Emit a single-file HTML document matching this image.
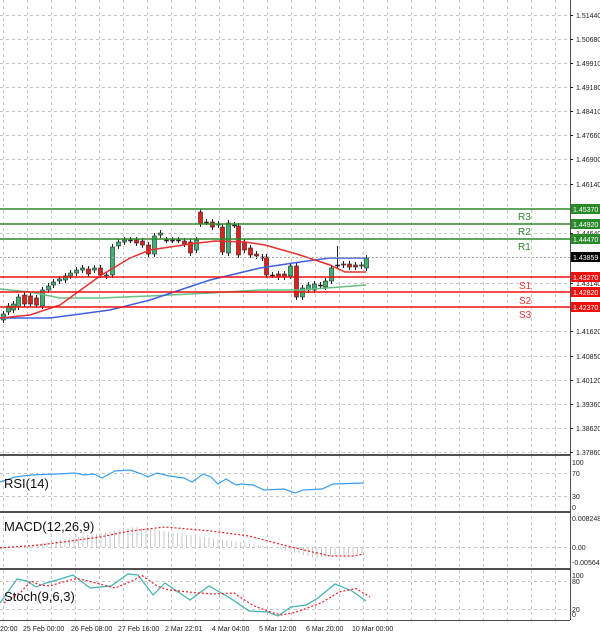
<!DOCTYPE html>
<html><head><meta charset="utf-8"><style>
body{margin:0;background:#fff;width:600px;height:634px;overflow:hidden}
svg{display:block;font-family:"Liberation Sans",sans-serif}
</style></head><body>
<svg id="c" width="600" height="634" xmlns="http://www.w3.org/2000/svg">
<rect width="600" height="634" fill="#fff"/>
<g id="grid" stroke="#c8c8c8" stroke-dasharray="3,3" stroke-width="1"></g>
<g id="hist" stroke="#c8c8c8" stroke-width="1"></g>
<g id="cand"></g>
<g id="lines" fill="none"></g>
<g id="frame" stroke="#505050" fill="none">
<line x1="570.5" y1="0" x2="570.5" y2="620" stroke-width="1"/>
<line x1="0" y1="455" x2="570" y2="455" stroke-width="2"/>
<line x1="0" y1="512" x2="570" y2="512" stroke-width="2"/>
<line x1="0" y1="569" x2="570" y2="569" stroke-width="2"/>
<line x1="0" y1="620.5" x2="570" y2="620.5" stroke-width="1"/>
</g>
<g id="lab" font-size="7" fill="#222"></g>
<g font-size="13" fill="#111">
<text x="4" y="488">RSI(14)</text>
<text x="4" y="531">MACD(12,26,9)</text>
<text x="4" y="601">Stoch(9,6,3)</text>
</g>
<g font-size="10" fill="#2e8b2e"><text x="518" y="220">R3</text><text x="518" y="235">R2</text><text x="518" y="250">R1</text></g>
<g font-size="10" fill="#f03030"><text x="519" y="289">S1</text><text x="519" y="304">S2</text><text x="519" y="318">S3</text></g>
</svg>
<script>
const NS="http://www.w3.org/2000/svg";
function el(p,t,a,txt){const e=document.createElementNS(NS,t);for(const k in a)e.setAttribute(k,a[k]);if(txt!==undefined)e.textContent=txt;document.getElementById(p).appendChild(e);return e;}
for(let x=3;x<570;x+=24){el('grid','line',{x1:x+.5,y1:0,x2:x+.5,y2:620});}
const py=[[15,'1.51440'],[39,'1.50680'],[63,'1.49910'],[87,'1.49180'],[111,'1.48410'],[135,'1.47660'],[159,'1.46900'],[184,'1.46140'],[233,'1.44640'],[283,'1.43140'],[331,'1.41620'],[356,'1.40850'],[380,'1.40120'],[404,'1.39360'],[428,'1.38620'],[452,'1.37860']];
py.forEach(([y,t])=>{el('grid','line',{x1:0,y1:y+.5,x2:570,y2:y+.5});el('lab','text',{x:576,y:y+3},t);el('lab','line',{x1:570,y1:y+.5,x2:573,y2:y+.5,stroke:'#222'});});
[473,496,547,581,609].forEach(y=>el('grid','line',{x1:0,y1:y+.5,x2:570,y2:y+.5}));
[[465,'100'],[476,'70'],[499,'30'],[510,'0'],[521,'0.008248'],[550,'0.00'],[565,'-0.005643'],[578,'100'],[584,'80'],[612,'20'],[617,'0']].forEach(([y,t])=>el('lab','text',{x:572,y:y},t));
[[0,'20:00'],[23,'25 Feb 00:00'],[71,'26 Feb 08:00'],[118,'27 Feb 16:00'],[165,'2 Mar 22:01'],[212,'4 Mar 04:00'],[259,'5 Mar 12:00'],[306,'6 Mar 20:00'],[352,'10 Mar 00:00']].forEach(([x,t])=>el('lab','text',{x:x,y:631},t));
for(let x=2;x<366;x+=4.5){let v;
 if(x<20)v=(x-20)*0.05;else if(x<135)v=(x-20)/115*20;else if(x<272)v=20*(272-x)/137;else if(x<315)v=-11*(x-272)/43;else v=-11+5*(x-315)/50;
 el('hist','line',{x1:x,y1:547,x2:x,y2:547-v});}
const C=[[3,320,314],[8,312,306],[13,310,304],[18,307,297],[24,295,304],[30,296,304],[36,298,305],[42,306,290],[48,290,286],[53,285,282],[59,281,279],[65,280,276],[70,276,273],[76,273,270],[82,270,268],[88,269,274],[94,270,268],[100,268,275],[106,276,275],[112,275,247],[118,246,242],[124,242,240],[130,240,240],[136,240,243],[142,241,245],[148,245,254],[154,254,236],[160,235,233],[166,240,240],[172,240,240],[178,240,240],[184,241,244],[190,242,253],[196,250,240],[200,212,224],[206,222,222],[212,222,227],[218,225,224],[222,227,252],[228,253,223],[234,225,225],[238,226,255],[244,242,250],[250,248,255],[256,254,256],[262,257,258],[266,257,275],[272,275,275],[278,274,277],[284,274,277],[290,276,266],[296,266,297],[302,297,288],[308,290,285],[314,290,284],[320,285,285],[325,287,281],[331,281,268],[337,265,265,246],[343,264,265],[349,264,267],[355,265,267],[361,266,265],[366,268,258]];
C.forEach(c=>{const [x,o,cl]=c;const top=Math.min(o,cl),bot=Math.max(o,cl);const hi=c[3]||top-3,lo=bot+3;
 el('cand','line',{x1:x+.5,y1:hi,x2:x+.5,y2:lo,stroke:'#222'});
 const col=cl<o?'#3cb371':(cl>o?'#e0201a':'#222');
 el('cand','rect',{x:x-1.5,y:top,width:4,height:Math.max(1,bot-top),fill:col,stroke:'#222','stroke-width':0.6});});
function pl(pts,a){el('lines','polyline',Object.assign({points:pts.map(p=>p.join(',')).join(' ')},a));}
pl([[0,289],[30,292],[60,298],[100,298],[150,296],[210,293],[260,290],[300,290],[340,287],[366,285]],{stroke:'#66c080','stroke-width':1.5});
pl([[0,318],[50,318],[110,310],[150,300],[210,280],[260,268],[300,262],[330,258],[366,258]],{stroke:'#4060e0','stroke-width':1.5});
pl([[0,318],[30,315],[60,305],[100,276],[130,258],[150,250],[190,244],[215,241],[245,242],[265,245],[300,255],[330,265],[345,272],[366,272]],{stroke:'#e83030','stroke-width':1.5});
[[209,'#2a8a2a','1.45370'],[224,'#2a8a2a','1.44920'],[239,'#2a8a2a','1.44470'],[277,'#f01010','1.43270'],[292,'#f01010','1.42820'],[307,'#f01010','1.42370']].forEach(([y,c,t])=>{
 el('lines','line',{x1:0,y1:y,x2:570,y2:y,stroke:c,'stroke-width':1.5});
 el('lab','rect',{x:571,y:y-5,width:29,height:10,fill:c});
 el('lab','text',{x:573,y:y+3,fill:'#fff'},t);});
el('lines','line',{x1:0,y1:257.5,x2:570,y2:257.5,stroke:'#aaa','stroke-dasharray':'2,2'});
el('lab','rect',{x:571,y:252,width:29,height:10,fill:'#000'});
el('lab','text',{x:573,y:260,fill:'#fff'},'1.43859');
pl([[0,482],[15,477],[31,475],[57,474],[75,473],[84,475],[94,474],[102,478],[115,471],[130,470],[142,474],[148,477],[157,473],[169,476],[184,478],[192,482],[203,474],[211,477],[218,484],[226,479],[236,485],[241,484],[253,485],[264,490],[284,489],[295,493],[303,490],[322,489],[333,484],[364,483]],{stroke:'#3a9ff0','stroke-width':1.2});
pl([[0,548],[40,545],[100,537],[130,531],[165,527],[211,531],[249,536],[287,546],[330,556],[352,556],[364,554]],{stroke:'#e82020','stroke-dasharray':'2,2','stroke-width':1.2});
const st=[[0,603],[17,579],[27,581],[36,587],[46,583],[57,580],[73,575],[90,588],[111,586],[128,574],[138,575],[153,595],[165,583],[190,600],[209,586],[230,598],[249,611],[268,612],[278,616],[291,607],[306,605],[318,598],[335,584],[352,591],[366,601]];
pl(st,{stroke:'#40b0b0','stroke-width':1.2});
pl(st.map(([x,y],i)=>[x+4,i?(y+st[i-1][1])/2+1:y]),{stroke:'#e82020','stroke-dasharray':'2,2','stroke-width':1.2});
</script>
</body></html>
